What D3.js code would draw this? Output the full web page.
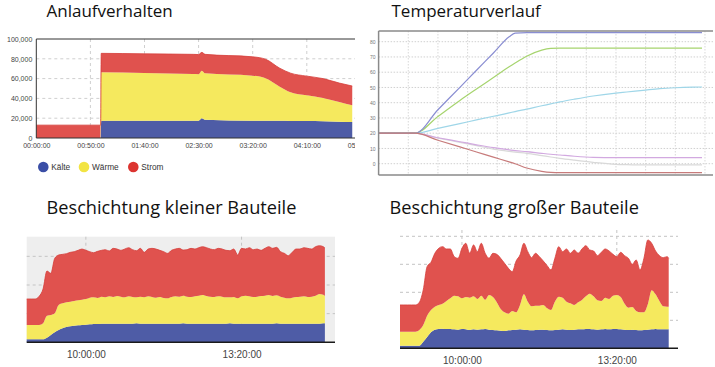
<!DOCTYPE html>
<html><head><meta charset="utf-8">
<script src="https://cdn.jsdelivr.net/npm/d3@7"></script>
<style>body{margin:0;background:#fff}svg{display:block}</style>
</head><body><svg id="c" width="715" height="367"></svg>
<script>
// ---------- DATA ----------
const serienNamen = ["Kälte", "Wärme", "Strom"];

// Anlaufverhalten (minutes since start, values)
const anlaufMinuten = [0, 59.5, 60, 100, 145, 150, 153, 156, 200, 212, 225, 235, 250, 265, 280, 292];
const anlaufKaelte  = [0, 0, 17500, 17500, 17500, 17500, 19900, 18500, 17500, 17400, 17300, 17200, 17100, 16900, 16500, 16200];
const anlaufWaerme  = [0, 0, 48800, 48200, 47100, 47000, 48100, 46800, 45500, 43000, 34500, 29000, 26000, 23500, 19800, 16800];
const anlaufStrom   = [13000, 13000, 19200, 19300, 19900, 19800, 18500, 19200, 19000, 19100, 18700, 19300, 19400, 19600, 19200, 19500];
const anlaufYTicks  = [0, 20000, 40000, 60000, 80000, 100000];
const anlaufXTicks  = [0, 50, 100, 150, 200, 250, 300];
const anlaufXLabels = ["00:00:00", "00:50:00", "01:40:00", "02:30:00", "03:20:00", "04:10:00", "05:00:00"];

// Temperaturverlauf
const tempX       = [0, 12.3, 20, 27.4, 33, 38.7, 44, 46, 49.9, 55, 58, 61.1, 66, 72.3, 80, 83.6, 90, 94.8, 100, 106, 109];
const tempBlau    = [20, 20, 35.4, 50.1, 61.3, 72.6, 83.2, 85.6, 86, 86, 86, 86, 86, 86, 86, 86, 86, 86, 86, 86, 86];
const tempGruen   = [20, 20, 31, 41.5, 49, 56.5, 63.5, 66, 70.5, 74.5, 75.6, 75.8, 75.8, 75.8, 75.8, 75.8, 75.8, 75.8, 75.8, 75.8, 75.8];
const tempCyan    = [20, 20, 23.2, 26.3, 28.7, 31.1, 33.3, 34.2, 35.8, 38, 39.2, 40.5, 42.3, 44.4, 46.3, 47, 48.3, 49.2, 49.8, 50.2, 50.3];
const tempLila    = [20, 20, 17, 14.4, 12.4, 10.5, 9.1, 8.6, 7.9, 6.8, 6.2, 5.7, 4.9, 4.2, 4, 4, 4, 4, 4, 4, 4];
const tempGrau    = [20, 20, 16.8, 14, 11.8, 9.6, 8.1, 7.6, 6.8, 5.3, 4.4, 3.5, 2.3, 0.9, -0.4, -0.6, -0.8, -0.8, -0.8, -0.8, -0.8];
const tempBraun   = [20, 20, 15.4, 11, 7.7, 4.3, 1.2, 0, -2.8, -5, -5.7, -5.9, -5.9, -5.9, -5.9, -5.9, -5.9, -5.9, -5.9, -5.9, -5.9];
const tempYTicks  = [0, 10, 20, 30, 40, 50, 60, 70, 80];
const tempXGrid   = [10, 20, 30, 40, 50, 60, 70, 80, 90, 100, 110];

// Beschichtung kleiner Bauteile
const kleinZeit = ["08:44","08:50","08:55","09:00","09:05","09:10","09:15","09:20","09:25","09:30","09:35","09:40","09:45","09:50","09:55","10:00","10:05",
  "10:10","10:15","10:20","10:25","10:30","10:35","10:40","10:45","10:50","10:55",
  "11:00","11:05","11:10","11:15","11:20","11:25","11:30","11:35","11:40","11:45",
  "11:50","11:55","12:00","12:05","12:10","12:15","12:20","12:25","12:30","12:35",
  "12:40","12:45","12:50","12:55","13:00","13:05","13:10","13:15","13:20","13:25",
  "13:30","13:35","13:40","13:45","13:50","13:55","14:00","14:05","14:10","14:15",
  "14:20","14:25","14:30","14:35","14:40","14:45","14:50","14:55","15:00","15:05","15:07"];
const kleinKaelte = [9,9,9,9,9,14,22,30,37,42,46,48,50,51,52,53,54,
  55,55,56,56,56,56,56,56,56,56, 56,57,56,56,56,56,56,56,56,56, 56,56,56,57,56,56,56,56,56,56,
  56,56,56,56,56,57,56,56,56,56, 56,56,56,56,56,56,56,57,56,56, 56,56,56,56,56,56,56,56,56,57, 57];
const kleinWaerme = [43,43,43,43,48,66,60,57,75,75,74,74,74,75,76,77,80,
  80,78,81,79,82,80,83,81,79,82, 80,78,81,79,82,80,78,80,77,76, 80,82,81,83,81,80,82,84,86,83,
  81,80,82,81,79,78,80,76,82,84, 82,80,81,83,84,86,83,84,81,78, 76,78,80,81,82,80,81,84,89,86, 82];
const kleinStrom = [78,78,78,86,103,134,125,165,150,147,146,148,148,150,152,146,138,
  134,140,139,143,136,146,141,139,145,146, 142,140,145,135,142,146,146,140,139,135, 140,142,145,137,141,146,142,144,145,145,
  143,142,144,143,141,140,144,130,144,140, 146,142,143,137,142,145,143,144,135,133, 128,136,144,143,146,146,143,147,145,144, 144];
const kleinYGrid  = [86, 172, 258];
const kleinXTicks = ["10:00", "13:20"];

// Beschichtung großer Bauteile
const grossZeit = ["08:40","08:45","08:50","08:55","09:00","09:05","09:10","09:15","09:20","09:25","09:30","09:35","09:40","09:45","09:50","09:55",
  "10:00","10:05","10:10","10:15","10:20","10:25","10:30","10:35","10:40","10:45","10:50","10:55",
  "11:00","11:05","11:10","11:15","11:20","11:25","11:30","11:35","11:40","11:45","11:50","11:55",
  "12:00","12:05","12:10","12:15","12:20","12:25","12:30","12:35","12:40","12:45","12:50","12:55",
  "13:00","13:05","13:10","13:15","13:20","13:25","13:30","13:35","13:40","13:45","13:50","13:55",
  "14:00","14:05","14:10","14:15","14:20","14:25","14:27"];
const grossKaelte = [8,8,8,8,8,8,20,34,48,56,58,59,58,58,57,56,
  58,57,55,57,56,57,58,56,55,54,53,52,
  54,55,56,57,56,55,54,55,56,56,55,54,
  55,56,57,56,55,56,57,57,58,58,57,56,
  57,58,57,58,58,57,56,55,56,55,54,55,
  56,57,58,57,57,57,57];
const grossWaerme = [42,42,42,42,42,47,50,64,67,69,72,75,84,92,101,100,
  92,97,97,99,92,101,88,104,99,84,65,56,
  50,57,52,73,106,85,72,73,72,74,65,61,
  85,99,95,84,80,74,81,88,98,106,99,88,
  85,94,91,100,102,97,78,67,68,57,54,53,
  76,117,104,85,69,68,68];
const grossStrom = [80,80,80,80,80,83,105,147,143,160,170,171,156,148,117,114,
  150,161,133,154,142,157,139,110,131,144,152,147,
  136,118,154,150,153,150,146,157,147,132,128,120,
  130,150,138,158,150,165,147,153,152,131,136,134,
  146,146,144,124,115,134,144,148,128,153,127,162,
  193,141,130,136,146,150,145];
const grossYGrid  = [84, 168, 252, 336];
const grossXTicks = ["10:00", "13:20"];

// ---------- DRAWING ----------
const C = { blau: "#4e5ca6", gelb: "#f5e95e", rot: "#e0524e", rotLinie: "#d63f3b" };
const areaColors = [C.blau, C.gelb, C.rot];
const svg = d3.select("#c");
svg.append("rect").attr("width", 715).attr("height", 367).attr("fill", "#fff");
const defs = svg.append("defs");
defs.append("clipPath").attr("id", "clip1").append("rect").attr("x", 0).attr("y", 25).attr("width", 355).attr("height", 160);

const titles = [
  ["Anlaufverhalten", 46.5, 17, 17],
  ["Temperaturverlauf", 391.5, 17, 17],
  ["Beschichtung kleiner Bauteile", 46.5, 214, 18.2],
  ["Beschichtung großer Bauteile", 389.5, 214, 18.2]
];
svg.selectAll("text.title").data(titles).join("text").attr("class", "title")
  .attr("x", d => d[1]).attr("y", d => d[2]).text(d => d[0])
  .attr("font-family", "'Open Sans', 'Noto Sans', sans-serif").attr("font-size", d => d[3]).attr("fill", "#111");

const stack = d3.stack().keys(serienNamen);

// ===== Chart 1: Anlaufverhalten =====
(function () {
  const g = svg.append("g").attr("clip-path", "url(#clip1)");
  const x = d3.scaleLinear().domain([0, 300]).range([36.3, 360.9]);
  const y = d3.scaleLinear().domain([0, 100000]).range([138, 39]);
  const right = 355;
  g.selectAll("line.vg").data(anlaufXTicks.slice(1)).join("line")
    .attr("x1", d => x(d)).attr("x2", d => x(d)).attr("y1", 39).attr("y2", 138)
    .attr("stroke", "#cfcfcf").attr("stroke-dasharray", "3,3");
  g.selectAll("line.hg").data(anlaufYTicks.slice(1, -1)).join("line")
    .attr("x1", x(0)).attr("x2", right).attr("y1", d => y(d)).attr("y2", d => y(d))
    .attr("stroke", "#cfcfcf").attr("stroke-dasharray", "3,3");
  const rows = anlaufMinuten.map((m, i) => ({ m, "Kälte": anlaufKaelte[i], "Wärme": anlaufWaerme[i], "Strom": anlaufStrom[i] }));
  const layers = stack(rows);
  const area = d3.area().x(d => x(d.data.m)).y0(d => y(d[0])).y1(d => y(d[1])).curve(d3.curveMonotoneX);
  g.selectAll("path.layer").data(layers).join("path").attr("d", area)
    .attr("fill", (d, i) => areaColors[i]);
  g.append("path").datum(layers[2]).attr("fill", "none").attr("stroke", C.rotLinie).attr("stroke-width", 0.8)
    .attr("d", d3.line().x(d => x(d.data.m)).y(d => y(d[1])).curve(d3.curveMonotoneX));
  g.append("line").attr("x1", x(0)).attr("x2", right).attr("y1", 39).attr("y2", 39).attr("stroke", "#333").attr("stroke-width", 1);
  g.append("line").attr("x1", x(0)).attr("x2", x(0)).attr("y1", 39).attr("y2", 138).attr("stroke", "#333").attr("stroke-width", 1);
  g.append("line").attr("x1", x(0)).attr("x2", right).attr("y1", 138).attr("y2", 138).attr("stroke", "#333").attr("stroke-width", 1.2);
  const ax = g.append("g").attr("transform", "translate(" + x(0) + ",0)")
    .call(d3.axisLeft(y).tickValues(anlaufYTicks).tickSize(0).tickPadding(4).tickFormat(d3.format(",")));
  ax.select(".domain").remove();
  ax.selectAll("text").attr("font-family", "'Liberation Sans', Arial, sans-serif").attr("font-size", 7).attr("fill", "#444");
  const bx = g.append("g").attr("transform", "translate(0,138)")
    .call(d3.axisBottom(x).tickValues(anlaufXTicks).tickSize(0).tickPadding(5).tickFormat((d, i) => anlaufXLabels[i]));
  bx.select(".domain").remove();
  bx.selectAll("text").attr("font-family", "'Liberation Sans', Arial, sans-serif").attr("font-size", 7).attr("fill", "#444");
  const legX = [43.3, 84, 133.3];
  const legColors = ["#3a4ea6", "#f2e443", "#dc3430"];
  const lg = svg.append("g");
  lg.selectAll("circle").data(serienNamen).join("circle")
    .attr("cx", (d, i) => legX[i]).attr("cy", 167).attr("r", 5.3).attr("fill", (d, i) => legColors[i]);
  lg.selectAll("text").data(serienNamen).join("text")
    .attr("x", (d, i) => legX[i] + 8).attr("y", 170).text(d => d)
    .attr("font-family", "'Liberation Sans', Arial, sans-serif").attr("font-size", 8.3).attr("fill", "#333");
})();

// ===== Chart 2: Temperaturverlauf =====
(function () {
  const g = svg.append("g");
  const x = d3.scaleLinear().domain([0, 112]).range([378.6, 378.6 + 112 * 2.967]);
  const y = d3.scaleLinear().domain([0, 80]).range([163.7, 41.7]);
  const top = 31, bot = 175, right = 713;
  g.selectAll("line.vg").data(tempXGrid).join("line")
    .attr("x1", d => x(d)).attr("x2", d => x(d)).attr("y1", top).attr("y2", bot)
    .attr("stroke", "#d8d8d8").attr("stroke-dasharray", "1.5,1.5");
  g.selectAll("line.hg").data(tempYTicks).join("line")
    .attr("x1", x(0)).attr("x2", right).attr("y1", d => y(d)).attr("y2", d => y(d))
    .attr("stroke", "#d0d0d0").attr("stroke-dasharray", "1.5,1.5");
  const series = [
    [tempGrau, "#d9d9d9"], [tempLila, "#d2a9e0"], [tempCyan, "#9fd6e8"],
    [tempGruen, "#a6d46e"], [tempBlau, "#8a8ed2"], [tempBraun, "#c77b7b"]
  ];
  const line = d3.line().x((d, i) => x(tempX[i])).y(d => y(d)).curve(d3.curveMonotoneX);
  g.selectAll("path.s").data(series).join("path")
    .attr("d", d => line(d[0])).attr("fill", "none").attr("stroke", d => d[1]).attr("stroke-width", 1.2);
  g.append("line").attr("x1", x(0)).attr("x2", right).attr("y1", top).attr("y2", top).attr("stroke", "#8a8a8a").attr("stroke-width", 1.5);
  g.append("line").attr("x1", x(0)).attr("x2", right).attr("y1", bot).attr("y2", bot).attr("stroke", "#8a8a8a").attr("stroke-width", 1.5);
  g.append("line").attr("x1", x(0)).attr("x2", x(0)).attr("y1", top).attr("y2", bot).attr("stroke", "#8a8a8a").attr("stroke-width", 1.5);
  const ax = g.append("g").attr("transform", "translate(" + x(0) + ",0)")
    .call(d3.axisLeft(y).tickValues(tempYTicks).tickSize(0).tickPadding(3));
  ax.select(".domain").remove();
  ax.selectAll("text").attr("font-family", "'Liberation Sans', Arial, sans-serif").attr("font-size", 5).attr("fill", "#777");
})();

// ===== Stacked time charts =====
function timeChart(opt) {
  const parse = d3.timeParse("%H:%M");
  const g = svg.append("g");
  const x = d3.scaleTime().domain([parse(opt.domain[0]), parse(opt.domain[1])]).range([opt.left, opt.right]);
  const y = d3.scaleLinear().domain([0, opt.ymax]).range([opt.base, opt.top]);
  if (opt.bg) g.append("rect").attr("x", opt.left).attr("y", opt.top).attr("width", opt.right - opt.left)
    .attr("height", opt.base - opt.top).attr("fill", opt.bg);
  g.selectAll("line.hg").data(opt.ygrid).join("line")
    .attr("x1", opt.left).attr("x2", opt.gridRight).attr("y1", d => y(d)).attr("y2", d => y(d))
    .attr("stroke", "#c4c4c4").attr("stroke-dasharray", "3,3");
  g.selectAll("line.vg").data(opt.xticks).join("line")
    .attr("x1", d => x(parse(d))).attr("x2", d => x(parse(d))).attr("y1", opt.vTop).attr("y2", opt.base)
    .attr("stroke", "#c4c4c4").attr("stroke-dasharray", "3,3");
  const rows = opt.zeit.map((t, i) => ({ t: parse(t), "Kälte": opt.k[i], "Wärme": opt.w[i], "Strom": opt.s[i] }));
  const layers = stack(rows);
  const area = d3.area().x(d => x(d.data.t)).y0(d => y(d[0])).y1(d => y(d[1])).curve(d3.curveMonotoneX);
  g.selectAll("path.layer").data(layers).join("path").attr("d", area).attr("fill", (d, i) => areaColors[i]);
  g.append("path").datum(layers[2]).attr("fill", "none").attr("stroke", C.rotLinie).attr("stroke-width", 0.8)
    .attr("d", d3.line().x(d => x(d.data.t)).y(d => y(d[1])).curve(d3.curveMonotoneX));
  g.append("line").attr("x1", opt.left).attr("x2", opt.right).attr("y1", opt.base).attr("y2", opt.base)
    .attr("stroke", "#1a1a1a").attr("stroke-width", 1.5);
  const bx = g.append("g").attr("transform", "translate(0," + opt.base + ")")
    .call(d3.axisBottom(x).tickValues(opt.xticks.map(parse)).tickSize(0).tickPadding(opt.pad).tickFormat(d3.timeFormat("%H:%M:%S")));
  bx.select(".domain").remove();
  bx.selectAll("text").attr("font-family", "'Liberation Sans', Arial, sans-serif").attr("font-size", 10).attr("fill", "#444");
}

timeChart({ zeit: kleinZeit, k: kleinKaelte, w: kleinWaerme, s: kleinStrom, domain: ["08:44", "15:20"],
  left: 26.7, right: 335, gridRight: 335, top: 236.7, vTop: 236.7, base: 342.3, ymax: 317, ygrid: kleinYGrid,
  xticks: kleinXTicks, bg: "#eeeeee", pad: 8.5 });
timeChart({ zeit: grossZeit, k: grossKaelte, w: grossWaerme, s: grossStrom, domain: ["08:40", "14:39"],
  left: 400, right: 678, gridRight: 678, top: 236.3, vTop: 230, base: 348.3, ymax: 336, ygrid: grossYGrid,
  xticks: grossXTicks, bg: null, pad: 8.5 });
</script></body></html>
